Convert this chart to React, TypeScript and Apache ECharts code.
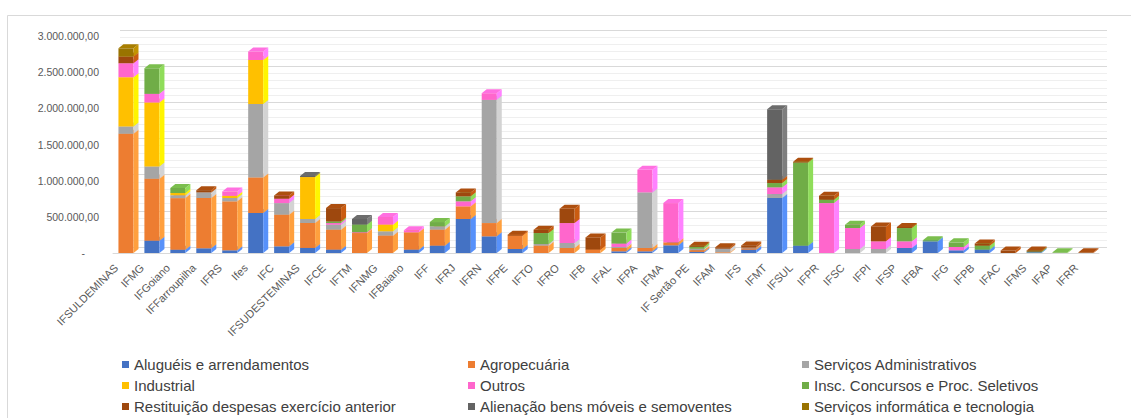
import React, { useEffect, useRef } from "react";
import * as echarts from "echarts";

const categories = [
  "IFSULDEMINAS", "IFMG", "IFGoiano", "IFFarroupilha", "IFRS", "Ifes", "IFC", "IFSUDESTEMINAS",
  "IFCE", "IFTM", "IFNMG", "IFBaiano", "IFF", "IFRJ", "IFRN", "IFPE", "IFTO", "IFRO", "IFB",
  "IFAL", "IFPA", "IFMA", "IF Sertão PE", "IFAM", "IFS", "IFMT", "IFSUL", "IFPR", "IFSC",
  "IFPI", "IFSP", "IFBA", "IFG", "IFPB", "IFAC", "IFMS", "IFAP", "IFRR",
];

const alugueis = [0, 170000, 45000, 65000, 37000, 552000, 92000, 70000, 46000, 0, 0, 46000, 101000, 470000, 230000, 55000, 0, 0, 0, 23000, 23000, 106000, 15000, 0, 45000, 760000, 100000, 0, 0, 0, 69000, 161000, 37000, 46000, 0, 10000, 0, 0];
const agropecuaria = [1648000, 856000, 714000, 695000, 677000, 492000, 437000, 345000, 276000, 276000, 240000, 240000, 221000, 175000, 184000, 184000, 101000, 69000, 46000, 46000, 46000, 41000, 25000, 10000, 20000, 0, 0, 0, 0, 0, 0, 0, 0, 0, 0, 0, 0, 0];
const servicosAdm = [101000, 170000, 40000, 78000, 46000, 1017000, 161000, 55000, 69000, 0, 60000, 0, 46000, 0, 1703000, 0, 23000, 69000, 0, 15000, 769000, 0, 20000, 50000, 10000, 55000, 0, 0, 55000, 55000, 0, 0, 0, 0, 0, 0, 0, 0];
const industrial = [681000, 884000, 30000, 0, 30000, 608000, 0, 580000, 0, 0, 92000, 0, 0, 0, 0, 0, 0, 0, 0, 0, 0, 0, 0, 0, 0, 0, 0, 0, 0, 0, 0, 0, 0, 0, 0, 0, 0, 0];
const outros = [193000, 120000, 0, 0, 60000, 115000, 60000, 0, 23000, 10000, 106000, 28000, 0, 69000, 92000, 0, 0, 276000, 0, 46000, 313000, 543000, 0, 0, 0, 92000, 0, 690000, 290000, 106000, 92000, 0, 46000, 0, 0, 0, 0, 0];
const inscConcursos = [0, 354000, 70000, 0, 0, 0, 0, 0, 23000, 106000, 0, 0, 60000, 69000, 0, 0, 152000, 0, 0, 152000, 0, 0, 25000, 0, 0, 60000, 1150000, 46000, 46000, 0, 184000, 15000, 64000, 55000, 0, 10000, 10000, 0];
const restituicao = [92000, 0, 0, 30000, 0, 0, 46000, 0, 184000, 0, 0, 0, 0, 55000, 0, 15000, 46000, 198000, 170000, 0, 0, 0, 15000, 20000, 30000, 46000, 10000, 55000, 0, 207000, 15000, 0, 0, 30000, 35000, 15000, 0, 10000];
const alienacao = [0, 0, 0, 0, 0, 0, 0, 15000, 0, 78000, 0, 0, 0, 0, 0, 0, 0, 0, 0, 0, 0, 0, 0, 0, 0, 976000, 0, 0, 0, 0, 0, 0, 0, 0, 0, 0, 0, 0];
const servicosInfo = [115000, 0, 0, 0, 0, 0, 0, 0, 0, 0, 0, 0, 0, 0, 0, 0, 0, 0, 0, 0, 0, 0, 0, 0, 0, 0, 0, 0, 0, 0, 0, 0, 0, 0, 0, 0, 0, 0];

const seriesNames = [
  "Aluguéis e arrendamentos",
  "Agropecuária",
  "Serviços Administrativos",
  "Industrial",
  "Outros",
  "Insc. Concursos e Proc. Seletivos",
  "Restituição despesas exercício anterior",
  "Alienação bens móveis e semoventes",
  "Serviços informática e tecnologia",
];
const seriesValues = [alugueis, agropecuaria, servicosAdm, industrial, outros, inscConcursos, restituicao, alienacao, servicosInfo];
const seriesColors = ["#4472C4", "#ED7D31", "#A5A5A5", "#FFC000", "#FF66CC", "#70AD47", "#9E480E", "#636363", "#997300"];

const yTicks = { min: 0, max: 3000000, interval: 500000 };

const FONT = "'Liberation Sans', Arial, sans-serif";

function fmt(v: number) {
  if (v === 0) return "{d|-}";
  return Math.round(v).toString().replace(/\B(?=(\d{3})+(?!\d))/g, ".") + ",00";
}

export default function App() {
  const ref = useRef<HTMLDivElement>(null);
  useEffect(() => {
    if (!ref.current) return;
    const chart = echarts.init(ref.current, null, { renderer: "svg" });
    const dx = 5;
    const dy = -4;

    const base = categories.map(() => 0);
    const series: any[] = seriesNames.map((name, k) => {
      const color = seriesColors[k];
      const side = echarts.color.lift(color, -0.28) as string;
      const topc = echarts.color.lift(color, -0.1) as string;
      const data = categories.map((_, i) => {
        const b = base[i];
        const t = b + seriesValues[k][i];
        base[i] = t;
        return [i, b, t];
      });
      return {
        type: "custom",
        name,
        xAxisIndex: 0,
        yAxisIndex: 0,
        itemStyle: { color },
        encode: { x: 0, y: [1, 2] },
        data,
        z: 2 + k * 0.01,
        renderItem: (params: any, api: any) => {
          const i = api.value(0);
          const b = api.value(1);
          const t = api.value(2);
          if (t <= b) return null;
          const p0 = api.coord([i, b]);
          const p1 = api.coord([i, t]);
          const bw = api.size([1, 0])[0] * 0.58;
          const x0 = p0[0] - bw / 2;
          const yb = p0[1];
          const yt = p1[1];
          return {
            type: "group",
            children: [
              {
                type: "rect",
                shape: { x: x0, y: yt, width: bw, height: yb - yt },
                style: { fill: color },
              },
              {
                type: "polygon",
                shape: {
                  points: [
                    [x0 + bw, yt],
                    [x0 + bw + dx, yt + dy],
                    [x0 + bw + dx, yb + dy],
                    [x0 + bw, yb],
                  ],
                },
                style: { fill: side },
              },
              {
                type: "polygon",
                shape: {
                  points: [
                    [x0, yt],
                    [x0 + dx, yt + dy],
                    [x0 + bw + dx, yt + dy],
                    [x0 + bw, yt],
                  ],
                },
                style: { fill: topc },
              },
            ],
          };
        },
      };
    });

    const legendCommon = {
      orient: "vertical",
      top: 357,
      padding: 0,
      itemGap: 6,
      itemWidth: 7,
      itemHeight: 7,
      icon: "rect",
      selectedMode: false,
      textStyle: { fontFamily: FONT, fontSize: 15, color: "#404040" },
    };

    chart.setOption({
      animation: false,
      backgroundColor: "#fff",
      textStyle: { fontFamily: FONT },
      graphic: [
        {
          type: "rect",
          shape: { x: 7.5, y: 15.5, width: 1130, height: 420 },
          style: { fill: "none", stroke: "#D9D9D9", lineWidth: 1 },
          silent: true,
          z: -10,
        },
      ],
      legend: [
        { ...legendCommon, left: 122, data: [seriesNames[0], seriesNames[3], seriesNames[6]] },
        { ...legendCommon, left: 468, data: [seriesNames[1], seriesNames[4], seriesNames[7]] },
        { ...legendCommon, left: 802, data: [seriesNames[2], seriesNames[5], seriesNames[8]] },
      ],
      grid: [
        { left: 113, right: 32, top: 36, bottom: 165, containLabel: false },
        { left: 120, right: 24, top: 30, bottom: 171, containLabel: false },
      ],
      xAxis: [
        {
          type: "category",
          gridIndex: 0,
          data: categories,
          axisTick: { show: false },
          axisLine: { show: true, lineStyle: { color: "#D9D9D9" } },
          axisLabel: {
            interval: 0,
            rotate: 45,
            fontSize: 11,
            color: "#595959",
            fontFamily: FONT,
            margin: 3,
            padding: [0, 14, 0, 0],
          },
        },
        { type: "value", gridIndex: 1, show: false, min: 0, max: 1 },
      ],
      yAxis: [
        {
          type: "value",
          gridIndex: 0,
          ...yTicks,
          axisLine: { show: false },
          axisTick: { show: false },
          splitLine: { show: false },
          axisLabel: {
            fontSize: 10.5,
            color: "#595959",
            fontFamily: FONT,
            margin: 14,
            formatter: fmt,
            rich: { d: { fontSize: 10.5, color: "#595959", padding: [0, 14, 0, 0] } },
          },
        },
        {
          type: "value",
          gridIndex: 1,
          ...yTicks,
          axisLine: { show: false },
          axisTick: { show: false },
          axisLabel: { show: false },
          splitLine: { show: true, lineStyle: { color: "#D9D9D9", width: 1 } },
          minorTick: { show: false, splitNumber: 5 },
          minorSplitLine: { show: true, lineStyle: { color: "#EFEFEF", width: 1 } },
        },
      ],
      series,
    });
    return () => chart.dispose();
  }, []);
  return (
    <div
      ref={ref}
      style={{ position: "fixed", left: 0, top: 0, width: 1131, height: 418 }}
    />
  );
}
